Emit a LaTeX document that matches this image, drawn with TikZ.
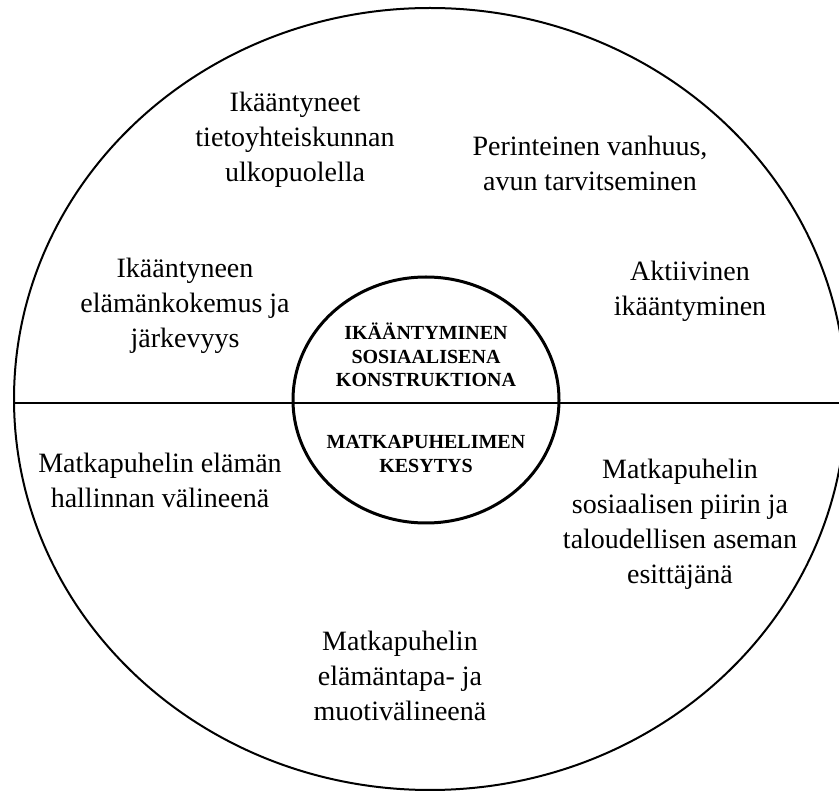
\documentclass[tikz,border=0pt]{standalone}
\usepackage{fontspec}
\setmainfont{Liberation Serif}
\usetikzlibrary{shapes.geometric}

\begin{document}
\begin{tikzpicture}[
    x=1pt, y=-1pt,
    ring/.style={draw=black, line width=2pt},
    core/.style={draw=black, line width=3pt},
    theme/.style={font=\fontsize{28}{35}\selectfont, align=center, inner sep=0pt},
    title/.style={font=\fontsize{20}{23.3}\selectfont\bfseries, align=center, inner sep=0pt},
  ]

  % Frame
  \useasboundingbox (0,0) rectangle (839,791);
  \clip (0,0) rectangle (839,791);

  % Outer ring and dividing line
  \draw[ring] (430,399) ellipse [x radius=416, y radius=391];
  \coordinate (left) at (14,403);
  \coordinate (right) at (839,403);
  \draw[ring] (left) -- (right);

  % Centre
  \draw[core] (426,400) ellipse [x radius=133, y radius=123];
  \node[title] (social) at (426,355) {IKÄÄNTYMINEN\\SOSIAALISENA\\KONSTRUKTIONA};
  \node[title] (taming) at (426,454) {MATKAPUHELIMEN\\KESYTYS};

  % Ageing as a social construction
  \node[theme] (outside) at (295,140) {Ikääntyneet\\tietoyhteiskunnan\\ulkopuolella};
  \node[theme] (help) at (590,163) {Perinteinen vanhuus,\\avun tarvitseminen};
  \node[theme] (wisdom) at (185,306) {Ikääntyneen\\elämänkokemus ja\\järkevyys};
  \node[theme] (active) at (690,291) {Aktiivinen\\ikääntyminen};

  % Taming the mobile phone
  \node[theme] (control) at (160,480) {Matkapuhelin elämän\\hallinnan välineenä};
  \node[theme] (status) at (680,524) {Matkapuhelin\\sosiaalisen piirin ja\\taloudellisen aseman\\esittäjänä};
  \node[theme] (fashion) at (400,676) {Matkapuhelin\\elämäntapa- ja\\muotivälineenä};

\end{tikzpicture}
\end{document}
